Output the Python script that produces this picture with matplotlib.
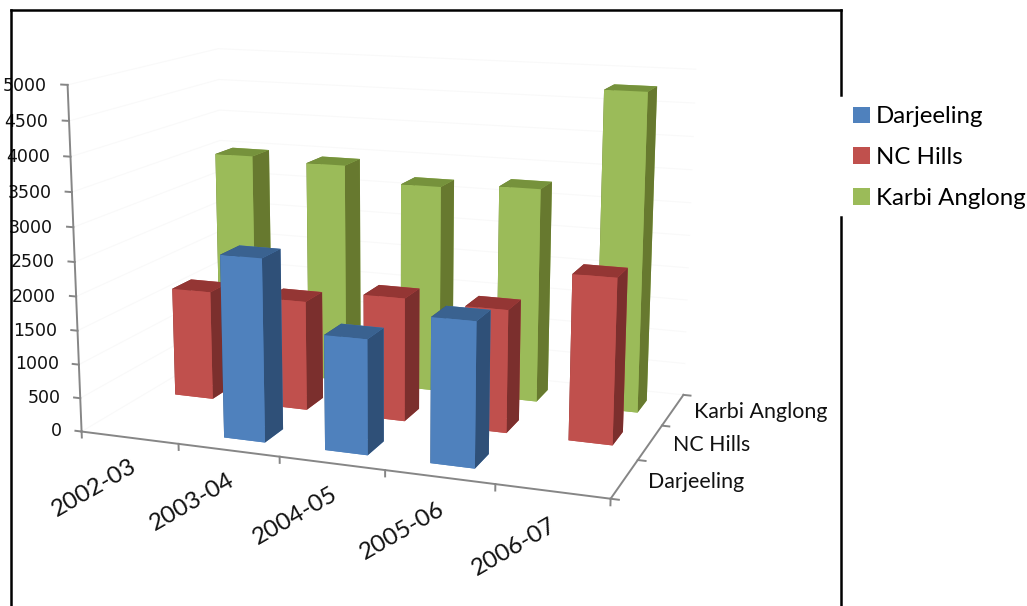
import matplotlib
matplotlib.use('Agg')
import matplotlib.pyplot as plt
import numpy as np
from matplotlib.lines import Line2D
from matplotlib.patches import Patch
from mpl_toolkits.mplot3d import proj3d

years = ['2002-03', '2003-04', '2004-05', '2005-06', '2006-07']
regions = ['Darjeeling', 'NC Hills', 'Karbi Anglong']
darjeeling = [0, 2665, 1660, 2060, 0]
nc_hills = [1670, 1660, 1850, 1820, 2420]
karbi_anglong = [3480, 3430, 3200, 3270, 4785]
z_ticks = [0, 500, 1000, 1500, 2000, 2500, 3000, 3500, 4000, 4500, 5000]

plt.rcParams['font.family'] = ['Lato', 'DejaVu Sans']
W, H = 1027, 606
fig = plt.figure(figsize=(W / 100, H / 100), dpi=100)

# camera and axes box solved from the axis corners
left, bottom, size = 36.2, 604.3, 693.3
ax = fig.add_axes([left / W, (H - bottom) / H, size / W, size / H], projection='3d')
ax.set_xlim(0, 5, view_margin=0)
ax.set_ylim(0, 3, view_margin=0)
ax.set_zlim(0, 5000, view_margin=0)
ax.view_init(12.767, -69.673)
ax.set_proj_type('persp', focal_length=0.476)
ax.set_box_aspect((546.1, 333.6, 352.0))
ax.set_axis_off()
ax.computed_zorder = False
M = ax.get_proj()


def label(x, y, z, s, **kw):
    # plain 2d text at the projected spot, so the rotation is kept
    tx, ty, _ = proj3d.proj_transform(x, y, z, M)
    ax.text2D(tx, ty, s, transform=ax.transData, color='#111111', zorder=30, **kw)


grey = '#868686'
light = '#f9f9f9'
for z in z_ticks:
    ax.plot([0, 0, 5], [0, 3, 3], [z, z, z], color=light, lw=0.8, zorder=1)
    ax.plot([-0.065, 0], [0, 0], [z, z], color=grey, lw=1.4, zorder=2)
    label(-0.21, 0, z - 30, str(z), ha='right', va='center', fontsize=12.5, family='DejaVu Sans')
ax.plot([0, 0], [0, 0], [0, 5000], color=grey, lw=1.4, zorder=2)
ax.plot([0, 5, 5], [0, 0, 3], [0, 0, 0], color=grey, lw=1.4, zorder=2)
for i in range(6):
    ax.plot([i, i], [0, 0], [0, -90], color=grey, lw=1.4, zorder=2)
for j in range(4):
    ax.plot([5, 5.07], [j, j], [0, 0], color=grey, lw=1.4, zorder=2)

for i, year in enumerate(years):
    label(i * 1.015 + 0.11, 0, -840, year, rotation=30, rotation_mode='anchor', ha='center', va='center',
          fontsize=17.5)
for j, region in enumerate(regions):
    label(5.205, j + 0.5, 0, region, ha='left', va='center', fontsize=15.4)

# front, top, side shades per series; the back row is drawn first
shades = [('#4F81BD', '#3A6290', '#2F5078'), ('#C0504D', '#943634', '#7B2F2D'), ('#9BBB59', '#76923C', '#67792F')]
series = [darjeeling, nc_hills, karbi_anglong]
row_x = [0.31, 0.29, 0.29]
for j in (2, 1, 0):
    front, top, side = shades[j]
    for i, val in enumerate(series[j]):
        if val <= 0:
            continue
        ax.bar3d(i + row_x[j], j + 0.3, 0, 0.41, 0.4, val, shade=False, linewidth=0,
                 color=[front, top, front, front, side, side], zorder=10 + (2 - j) * 5 + i * 0.1)

handles = [Patch(facecolor=shades[k][0], linewidth=0) for k in range(3)]
fig.legend(handles, regions, loc='upper left', bbox_to_anchor=(846 / W, 1 - 99 / H), frameon=False, fontsize=17.3,
           handlelength=0.68, handleheight=0.68, handletextpad=0.25, labelspacing=0.825, borderpad=0.3, borderaxespad=0)

frame = [([11, 11], [10, 606]), ([11, 841], [10, 10]), ([841, 841], [10, 95]), ([841, 841], [217, 606])]
for xs, ys in frame:
    fig.add_artist(Line2D(np.array(xs) / W, 1 - np.array(ys) / H, color='black', lw=1.8))

fig.savefig('out.png', dpi=100)
